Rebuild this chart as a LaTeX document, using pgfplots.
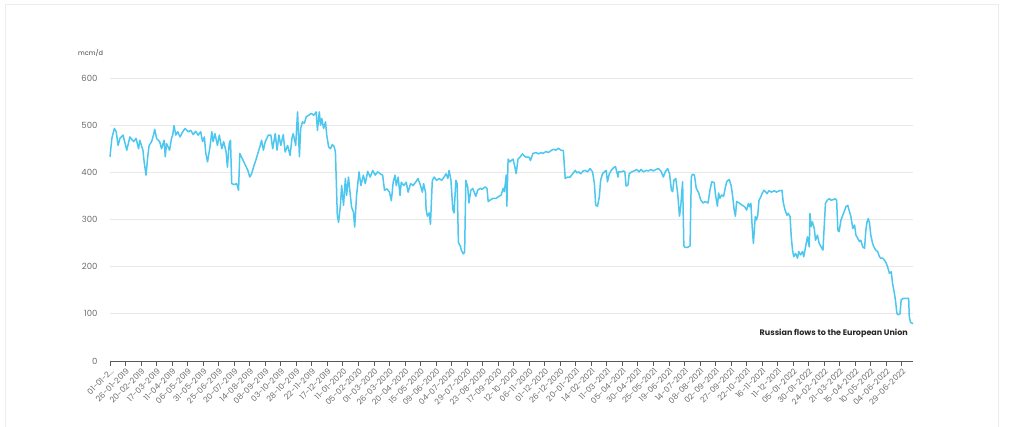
\documentclass[border=0pt]{standalone}
\usepackage{fontspec}
\setmainfont{Poppins}
\usepackage{pgfplots}
\pgfplotsset{compat=1.18}
\definecolor{flow}{RGB}{77,199,240}
\definecolor{tickgray}{RGB}{110,110,110}
\definecolor{gridgray}{RGB}{232,232,232}
\definecolor{framegray}{RGB}{236,236,236}
\begin{document}
\begin{tikzpicture}
\path[use as bounding box] (0,0) rectangle (1024pt,427pt);
\fill[white] (0,0) rectangle (1024pt,427pt);
\draw[framegray, line width=1pt] (5pt,0) -- (5pt,422pt) -- (998pt,422pt) -- (998pt,0);
\node[anchor=west, font=\fontsize{6.5}{8}\selectfont, text=black!75, inner sep=0pt] at (78pt,374pt) {mcm/d};
\begin{axis}[
  at={(110pt,66pt)}, anchor=south west,
  scale only axis, width=803pt, height=283pt,
  xmin=0, xmax=1293, ymin=0, ymax=600,
  axis x line*=bottom, axis y line*=left,
  y axis line style={draw=none},
  x axis line style={draw=black!65, line width=0.8pt},
  ytick={0,100,200,300,400,500,600},
  ymajorgrids, grid style={draw=gridgray, line width=0.7pt},
  ytick style={draw=none},
  xtick={0,25,50,75,100,125,150,175,200,225,250,275,300,325,350,375,400,425,450,475,500,525,550,575,600,625,650,675,700,725,750,775,800,825,850,875,900,925,950,975,1000,1025,1050,1075,1100,1125,1150,1175,1200,1225,1250,1275},
  xticklabels={{01-01-2\ldots},26-01-2019,20-02-2019,17-03-2019,11-04-2019,06-05-2019,31-05-2019,25-06-2019,20-07-2019,14-08-2019,08-09-2019,03-10-2019,28-10-2019,22-11-2019,17-12-2019,11-01-2020,05-02-2020,01-03-2020,26-03-2020,20-04-2020,15-05-2020,09-06-2020,04-07-2020,29-07-2020,23-08-2020,17-09-2020,12-10-2020,06-11-2020,01-12-2020,26-12-2020,20-01-2021,14-02-2021,11-03-2021,05-04-2021,30-04-2021,25-05-2021,19-06-2021,14-07-2021,08-08-2021,02-09-2021,27-09-2021,22-10-2021,16-11-2021,11-12-2021,05-01-2022,30-01-2022,24-02-2022,21-03-2022,15-04-2022,10-05-2022,04-06-2022,29-06-2022},
  xtick style={draw=black!65, line width=0.8pt},
  tick align=outside, major tick length=5pt,
  xticklabel style={rotate=45, anchor=north east, font=\fontsize{8}{9}\selectfont, text=tickgray, inner sep=1pt},
  yticklabel style={font=\fontsize{8.5}{10}\selectfont, text=tickgray, xshift=-4pt},
  /pgf/number format/assume math mode=true,
  clip=false,
]
\addplot[flow, line width=1.5pt, line join=round] coordinates {
(0,433)(3,472)(7,493)(10,486)(13,457)(16,472)(21,479)(27,447)(32,475)(38,465)(42,472)(46,450)(48,468)(53,447)(55,422)(58,394)(61,436)(63,457)(67,465)(70,479)(72,491)(75,472)(80,465)(83,450)(87,468)(89,433)(91,461)(96,447)(99,472)(101,479)(103,499)(106,479)(109,486)(113,475)(117,486)(121,493)(126,486)(130,489)(134,480)(138,487)(142,479)(146,486)(149,465)(152,475)(154,443)(157,422)(161,454)(164,486)(166,465)(169,482)(173,457)(176,479)(180,450)(183,465)(187,443)(189,411)(192,461)(194,468)(196,376)(200,374)(204,376)(207,362)(209,440)(213,429)(217,418)(222,404)(225,390)(228,397)(232,415)(234,422)(238,440)(242,457)(244,468)(247,447)(250,465)(255,479)
(259,479)(262,450)(266,482)(269,447)(272,479)(275,457)(279,480)(282,443)(286,457)(290,436)(293,472)(295,482)(299,457)(302,528)(305,433)(307,493)(310,507)(313,504)(316,518)(320,521)(324,525)(328,521)(332,528)(334,489)(337,528)(339,500)(341,514)(344,493)(347,507)(349,479)(352,454)(355,450)(358,459)(361,454)(363,443)(366,309)(368,294)(371,330)(373,372)(376,330)(379,387)(381,351)(384,390)(387,351)(389,326)(392,316)(394,284)(397,351)(401,401)(404,372)(408,394)(411,376)(415,402)(419,390)(423,404)(427,394)(431,401)(435,397)(439,394)(442,362)(446,365)(450,358)(453,340)(456,379)(459,394)(461,372)(464,390)(467,351)(469,379)(473,372)(477,379)(480,358)(484,376)(488,372)(492,379)(496,387)(500,372)(503,358)(505,376)(508,358)
(509,321)(511,307)(514,314)(516,290)(519,383)(522,390)(526,383)(530,387)(534,383)(538,390)(541,397)(544,387)(546,404)(549,383)(552,321)(554,314)(557,383)(559,376)(561,251)(564,244)(566,234)(569,227)(571,231)(573,383)(576,369)(578,335)(581,362)(584,366)(587,356)(589,349)(592,362)(596,366)(599,364)(604,369)(607,366)(609,338)(613,342)(617,345)(622,345)(626,349)(630,352)(633,366)(635,359)(638,394)(639,328)(641,428)(644,422)(646,425)(649,428)(652,411)(654,397)(657,428)(660,432)(664,439)(667,435)(670,432)(675,432)(677,425)(681,440)(686,442)(690,439)(694,442)(697,440)(702,444)(706,442)(710,446)(714,449)(718,447)(722,451)(726,447)(730,446)(733,387)(737,390)(741,390)(745,397)(749,404)(752,399)(755,401)(758,397)(762,403)
(765,404)(769,401)(773,408)(777,401)(780,376)(782,331)(785,328)(788,349)(790,383)(793,397)(796,401)(799,404)(801,380)(804,397)(807,404)(811,410)(814,412)(818,390)(819,401)(823,401)(827,403)(829,401)(831,371)(834,373)(836,397)(840,401)(844,403)(848,406)(852,401)(855,406)(859,401)(863,404)(867,403)(871,406)(875,403)(879,406)(883,408)(887,403)(891,390)(894,401)(898,408)(901,397)(904,362)(906,359)(908,383)(911,387)(914,356)(917,307)(919,328)(922,380)(924,244)(926,241)(930,241)(934,244)(936,390)(938,396)(941,394)(944,366)(948,356)(951,342)(955,335)(958,338)(963,335)(966,362)(969,380)(973,378)(975,352)(978,328)(980,356)(982,345)(985,352)(988,349)(991,369)(993,380)(997,385)(1000,373)(1002,356)(1005,321)(1007,307)(1009,338)(1013,335)(1017,331)
(1022,327)(1025,320)(1028,334)(1030,327)(1032,334)(1034,285)(1036,249)(1039,306)(1041,299)(1043,309)(1045,341)(1048,348)(1050,355)(1053,362)(1056,358)(1058,355)(1061,361)(1065,358)(1070,361)(1073,358)(1078,361)(1082,362)(1084,337)(1087,320)(1090,309)(1092,313)(1095,306)(1097,263)(1099,235)(1101,221)(1104,228)(1107,218)(1109,232)(1112,225)(1115,232)(1117,221)(1120,242)(1123,263)(1126,242)(1127,313)(1129,285)(1131,295)(1134,281)(1136,256)(1139,267)(1142,249)(1145,242)(1148,235)(1150,285)(1152,334)(1155,341)(1158,344)(1161,341)(1165,342)(1167,344)(1170,341)(1172,277)(1174,274)(1177,299)(1180,309)(1182,316)(1185,327)(1188,330)(1190,320)(1193,306)(1196,281)(1199,288)(1201,267)(1204,260)(1207,253)(1209,256)(1212,242)(1215,239)(1217,277)(1219,295)(1221,302)(1223,292)(1225,267)(1228,249)(1230,242)(1233,235)(1236,232)(1239,221)(1241,218)(1244,218)(1247,214)(1250,207)(1252,200)(1255,186)(1258,189)(1260,165)(1263,144)(1265,126)(1267,101)(1269,98)(1272,100)(1274,130)(1278,133)(1283,133)(1286,133)(1287,94)(1289,82)(1293,79)
};
\node[anchor=east, font=\fontsize{8}{9}\selectfont\bfseries, text=black!85, inner sep=0pt] at (axis cs:1285,59) {Russian flows to the European Union};
\end{axis}
\end{tikzpicture}
\end{document}
